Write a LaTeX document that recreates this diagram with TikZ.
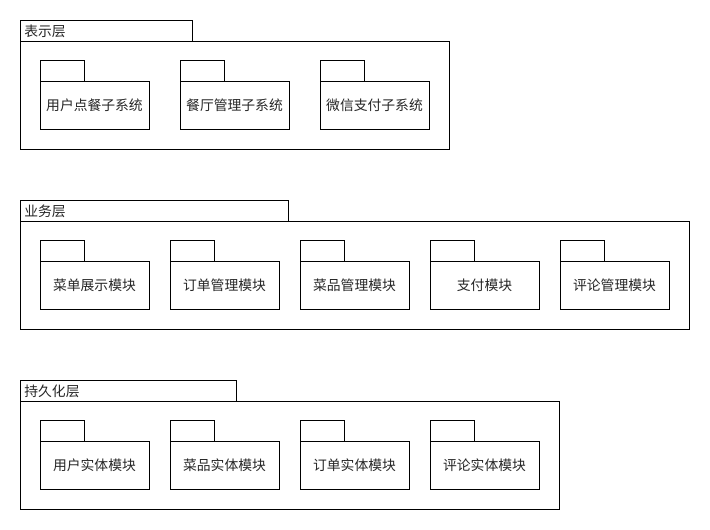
\documentclass[tikz,border=0pt]{standalone}
\usepackage{fontspec}
\newfontfamily\cjk{Noto Sans CJK SC}[Scale=1]
\begin{document}
\begin{tikzpicture}[x=1pt,y=-1pt,line width=0.8pt,
  lbl/.style={font=\cjk\fontsize{13.8}{15}\selectfont,inner sep=0pt,text=black!85},
  ]
\useasboundingbox[fill=white] (0,0) rectangle (710,530);
\newcommand{\pkg}[4]{% name, x, y(top of tab), text
  \draw (#2,#3) rectangle ++(44,21);
  \draw (#2,#3+21) rectangle ++(109,48);
  \node[lbl] (#1) at (#2+54.5,#3+45) {#4};
}
\newcommand{\layer}[5]{% name, y top, tab width, body width, label
  \draw (20,#2) rectangle ++(#3,21);
  \draw (20,#2+21) rectangle ++(#4,108);
  \node[lbl,anchor=west] (#1) at (24,#2+11.5) {#5};
}
\layer{L1}{20}{172}{429}{表示层}
\layer{L2}{200}{268}{669}{业务层}
\layer{L3}{380}{216}{539}{持久化层}
\pkg{a1}{40}{60}{用户点餐子系统}
\pkg{a2}{180}{60}{餐厅管理子系统}
\pkg{a3}{320}{60}{微信支付子系统}
\pkg{b1}{40}{240}{菜单展示模块}
\pkg{b2}{170}{240}{订单管理模块}
\pkg{b3}{300}{240}{菜品管理模块}
\pkg{b4}{430}{240}{支付模块}
\pkg{b5}{560}{240}{评论管理模块}
\pkg{c1}{40}{420}{用户实体模块}
\pkg{c2}{170}{420}{菜品实体模块}
\pkg{c3}{300}{420}{订单实体模块}
\pkg{c4}{430}{420}{评论实体模块}
\end{tikzpicture}
\end{document}
